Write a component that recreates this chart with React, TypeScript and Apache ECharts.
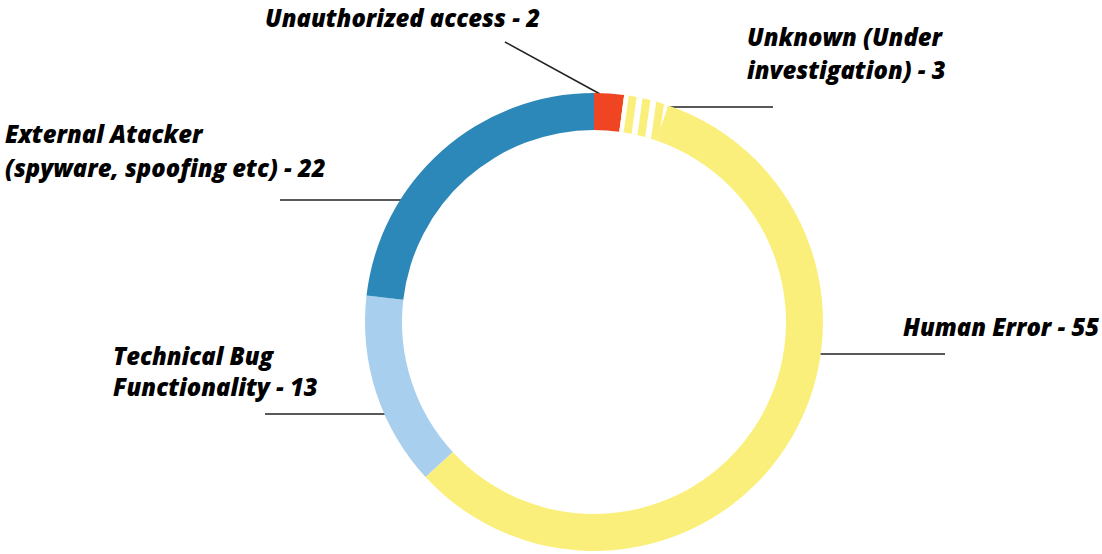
import React, { useEffect, useRef } from "react";
import * as echarts from "echarts";

const categories = [
  "Unauthorized access",
  "Unknown (Under\ninvestigation)",
  "Human Error",
  "Technical Bug\nFunctionality",
  "External Atacker\n(spyware, spoofing etc)",
];
const values = [2, 3, 55, 13, 22];
const colors = ["#f04523", "#fbef7c", "#fbef7c", "#a9cfee", "#2c88b8"];

// label placement (positions only)
const labelPos = [
  { x: 265, y: 1, lh: 33, line: [[505, 42], [600, 94]] },
  { x: 747, y: 20, lh: 33.5, line: [[645, 107], [773, 107]] },
  { x: 903, y: 310, lh: 33, line: [[817, 354], [945, 354]] },
  { x: 113, y: 340, lh: 31.5, line: [[265, 414], [393, 414]] },
  { x: 5, y: 117, lh: 34, line: [[280, 200], [408, 200]] },
];

export default function App() {
  const ref = useRef<HTMLDivElement>(null);
  useEffect(() => {
    const chart = echarts.init(ref.current!, null, { renderer: "svg" });
    const data = categories.map((name, i) => ({
      name,
      value: values[i],
      itemStyle:
        i === 1
          ? {
              color: colors[i],
              decal: {
                symbol: "rect",
                color: "#ffffff",
                dashArrayX: [1, 0],
                dashArrayY: [6, 8],
                symbolSize: 1,
                rotation: (-82 * Math.PI) / 180,
              },
            }
          : { color: colors[i] },
      label: { lineHeight: labelPos[i].lh },
    }));
    chart.setOption({
      animation: false,
      series: [
        {
          type: "pie",
          center: [594, 322],
          radius: [192, 229],
          startAngle: 90,
          clockwise: true,
          avoidLabelOverlap: false,
          itemStyle: { borderWidth: 0 },
          emphasis: { disabled: true },
          label: {
            show: true,
            position: "outside",
            formatter: (p: any) => `${p.name} - ${p.value}`,
            fontFamily: "Open Sans",
            fontStyle: "italic",
            fontWeight: 800,
            fontSize: 23.8,
            color: "#000",
          },
          labelLine: {
            show: true,
            smooth: false,
            lineStyle: { color: "#222", width: 1.5 },
          },
          labelLayout: (params: any) => {
            const p = labelPos[params.dataIndex];
            return {
              x: p.x,
              y: p.y,
              align: "left",
              verticalAlign: "top",
              labelLinePoints: p.line,
            };
          },
          data,
        },
      ],
    });
    return () => chart.dispose();
  }, []);
  return (
    <div
      ref={ref}
      style={{ position: "fixed", left: 0, top: 0, width: 1102, height: 554, background: "#fff" }}
    />
  );
}
